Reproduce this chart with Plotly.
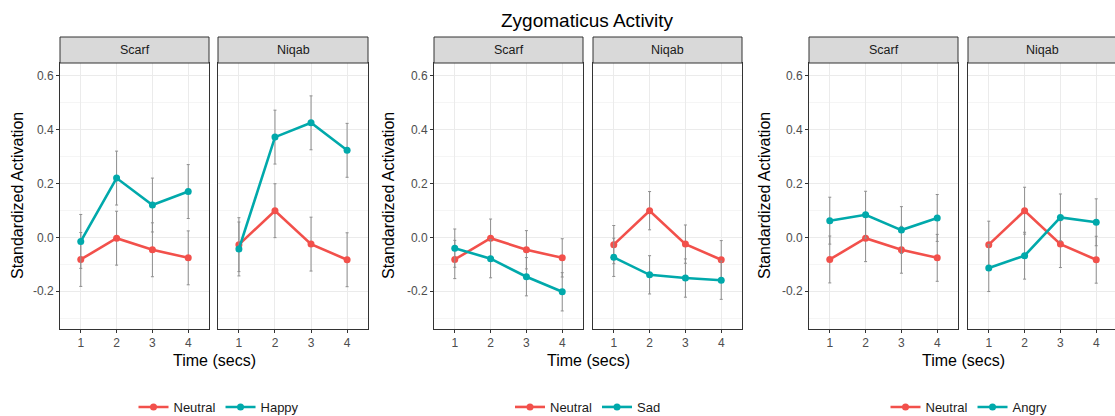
import plotly.graph_objects as go

W, H = 1115, 416

time = [1, 2, 3, 4]
facets = ["Scarf", "Niqab"]
emotions = ["Happy", "Sad", "Angry"]

neutral_scarf = [-0.082, -0.003, -0.046, -0.076]
neutral_niqab = [-0.027, 0.099, -0.025, -0.083]
happy_scarf = [-0.015, 0.220, 0.120, 0.170]
happy_niqab = [-0.043, 0.372, 0.425, 0.323]
sad_scarf = [-0.040, -0.079, -0.146, -0.202]
sad_niqab = [-0.074, -0.139, -0.151, -0.159]
angry_scarf = [0.062, 0.084, 0.027, 0.072]
angry_niqab = [-0.114, -0.068, 0.074, 0.056]

se_happy_plot = [0.100, 0.100, 0.100, 0.100]
se_sad_plot = [0.071, 0.071, 0.071, 0.071]
se_angry_plot = [0.087, 0.087, 0.087, 0.087]

y_tickvals = [-0.2, 0.0, 0.2, 0.4, 0.6]
y_ticktext = ["-0.2", "0.0", "0.2", "0.4", "0.6"]
y_minor = [-0.3, -0.1, 0.1, 0.3, 0.5]

emo_values = {
    "Happy": (happy_scarf, happy_niqab, se_happy_plot),
    "Sad": (sad_scarf, sad_niqab, se_sad_plot),
    "Angry": (angry_scarf, angry_niqab, se_angry_plot),
}

RED = "#F2504B"
TEAL = "#00A9AB"
ERR = "#8F8F8F"
FONT = "Liberation Sans, Arial, sans-serif"

# panel pixel geometry (left, right)
panel_px = [(60, 209), (218, 368), (434, 583), (593, 742), (809, 958), (968, 1117)]
top_px, bot_px = 63, 329
strip_top = 37
xr = (0.42, 4.58)
yr = (-0.34, 0.647)

fig = go.Figure()
layout = dict(
    width=W, height=H, autosize=False,
    margin=dict(l=0, r=0, t=0, b=0, autoexpand=False),
    paper_bgcolor="white", plot_bgcolor="white",
    font=dict(family=FONT, color="#1a1a1a"),
    shapes=[], annotations=[],
)

legend_names = ["legend", "legend2", "legend3"]
legend_centers = [219, 588, 969]

for p, emo in enumerate(emotions):
    sc, nq, se = emo_values[emo]
    for f, facet in enumerate(facets):
        i = p * 2 + f
        ax = "" if i == 0 else str(i + 1)
        x0, x1 = panel_px[i]
        dom_x1 = min(x1, W) / W
        rng_hi = xr[0] + (xr[1] - xr[0]) * (min(x1, W) - x0) / (x1 - x0)
        neutral = neutral_scarf if f == 0 else neutral_niqab
        emov = sc if f == 0 else nq
        for name, vals, col in (("Neutral", neutral, RED), (emo, emov, TEAL)):
            fig.add_trace(go.Scatter(
                x=time, y=vals, mode="lines+markers", name=name,
                line=dict(color=col, width=2.6),
                marker=dict(color=col, size=7),
                error_y=dict(type="data", array=se, color=ERR, thickness=1, width=1.5),
                xaxis="x" + ax, yaxis="y" + ax,
                legend=legend_names[p], showlegend=(f == 0),
            ))
        layout["xaxis" + ax] = dict(
            domain=[x0 / W, dom_x1], range=[xr[0], rng_hi], anchor="y" + ax,
            tickvals=time, ticktext=[str(t) for t in time],
            showgrid=True, gridcolor="#EBEBEB", gridwidth=1, zeroline=False,
            showline=True, mirror=True, linecolor="#333333", linewidth=1,
            ticks="outside", ticklen=3, tickcolor="#333333",
            tickfont=dict(size=12, color="#4D4D4D", family=FONT),
            fixedrange=True,
        )
        layout["yaxis" + ax] = dict(
            domain=[1 - bot_px / H, 1 - top_px / H], range=list(yr), anchor="x" + ax,
            tickvals=y_tickvals, ticktext=y_ticktext,
            showticklabels=(f == 0),
            showgrid=True, gridcolor="#EBEBEB", gridwidth=1, zeroline=False,
            minor=dict(tickvals=y_minor, showgrid=True, gridcolor="#F5F5F5", ticks=""),
            showline=True, mirror=(i != 5), linecolor="#333333", linewidth=1,
            ticks="outside" if f == 0 else "", ticklen=3, tickcolor="#333333",
            tickfont=dict(size=12, color="#4D4D4D", family=FONT),
            fixedrange=True,
        )
        # strip
        layout["shapes"].append(dict(
            type="rect", xref="paper", yref="paper",
            x0=x0 / W, x1=x1 / W, y0=1 - top_px / H, y1=1 - strip_top / H,
            fillcolor="#D9D9D9", line=dict(color="#333333", width=1), layer="above",
        ))
        layout["annotations"].append(dict(
            text=facet, xref="paper", yref="paper",
            x=(x0 + x1) / 2 / W, y=1 - (strip_top + top_px) / 2 / H,
            showarrow=False, xanchor="center", yanchor="middle",
            font=dict(size=12.5, color="#1a1a1a", family=FONT),
        ))
    # y title
    ytitle_x = [17, 388, 764][p]
    layout["annotations"].append(dict(
        text="Standardized Activation", xref="paper", yref="paper",
        x=ytitle_x / W, y=1 - (top_px + bot_px) / 2 / H, textangle=-90,
        showarrow=False, xanchor="center", yanchor="middle",
        font=dict(size=16, color="#000000", family=FONT),
    ))
    # x title
    xl = panel_px[p * 2][0]
    xrr = panel_px[p * 2 + 1][1]
    layout["annotations"].append(dict(
        text="Time (secs)", xref="paper", yref="paper",
        x=(xl + xrr) / 2 / W, y=1 - 360 / H,
        showarrow=False, xanchor="center", yanchor="middle",
        font=dict(size=16, color="#000000", family=FONT),
    ))
    layout[legend_names[p]] = dict(
        orientation="h", x=legend_centers[p] / W, xanchor="center",
        y=1 - 407 / H, yanchor="middle", bgcolor="rgba(0,0,0,0)",
        font=dict(size=13, color="#1a1a1a", family=FONT), itemwidth=30,
        tracegroupgap=0,
    )

layout["annotations"].append(dict(
    text="Zygomaticus Activity", xref="paper", yref="paper",
    x=587 / W, y=1 - 20 / H, showarrow=False, xanchor="center", yanchor="middle",
    font=dict(size=19, color="#000000", family=FONT),
))

fig.update_layout(**layout)
fig.write_html(
    "out.html",
    config={"displayModeBar": False},
    post_script="document.body.style.margin='0';document.body.style.overflow='hidden';",
)
